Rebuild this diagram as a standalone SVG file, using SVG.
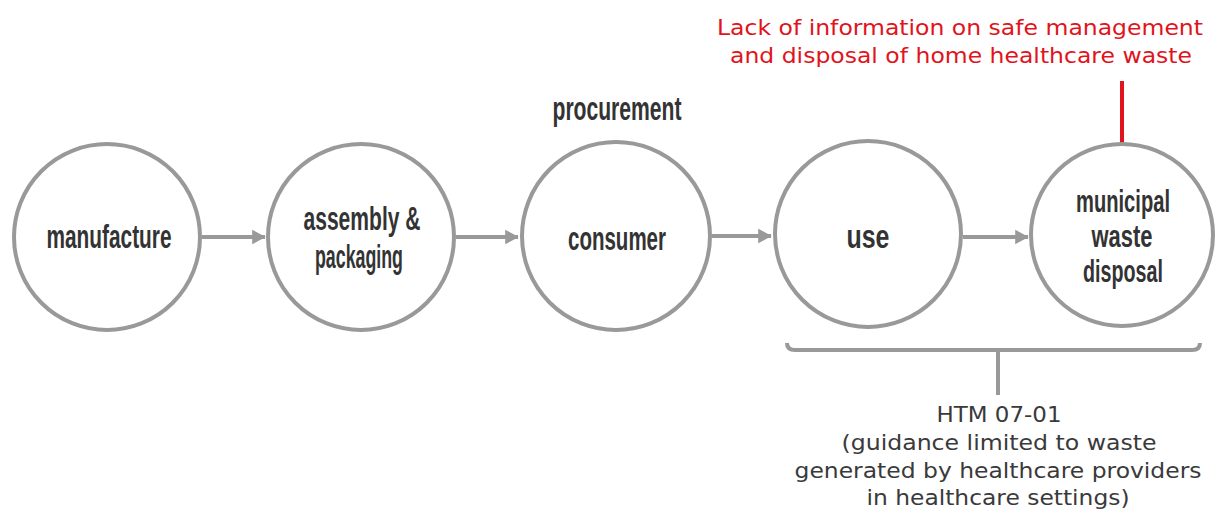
<svg xmlns="http://www.w3.org/2000/svg" width="1217" height="518" viewBox="0 0 1217 518">
<defs>
<style>
.node{fill:#fff;stroke:#999;stroke-width:4}
.lbl{font-family:"Liberation Sans Narrow","Liberation Sans",sans-serif;font-weight:bold;font-size:34px;fill:#333;text-anchor:middle}
.sm{font-size:31px}
.edge{stroke:#999;stroke-width:4;fill:none}
.red{font-family:"DejaVu Sans","Noto Sans",sans-serif;font-size:21px;fill:#e0141c;text-anchor:middle}
.note{font-family:"DejaVu Sans","Noto Sans",sans-serif;font-size:21px;fill:#3a3a3a;text-anchor:middle}
</style>
<marker id="ah" markerWidth="4" markerHeight="4" refX="3.2" refY="2" orient="auto" markerUnits="strokeWidth">
<path d="M0,0.2 L3.4,2 L0,3.8 Z" fill="#999"/>
</marker>
</defs>
<rect width="1217" height="518" fill="#fff"/>
<g id="connectors">
<line class="edge" x1="202" y1="237" x2="265" y2="237" marker-end="url(#ah)"/>
<line class="edge" x1="456" y1="237" x2="518" y2="237" marker-end="url(#ah)"/>
<line class="edge" x1="712" y1="236" x2="771" y2="236" marker-end="url(#ah)"/>
<line class="edge" x1="963" y1="237" x2="1028" y2="237" marker-end="url(#ah)"/>
<line x1="1122" y1="81" x2="1122" y2="145" stroke="#e0141c" stroke-width="4"/>
<path class="edge" d="M787,343 Q787,350 795,350 L1192,350 Q1200,350 1200,343"/>
<line class="edge" x1="998" y1="350" x2="998" y2="395"/>
</g>
<g id="n1">
<circle class="node" cx="107" cy="237" r="93"/>
<text class="lbl" x="109" y="248" textLength="125" lengthAdjust="spacingAndGlyphs">manufacture</text>
</g>
<g id="n2">
<circle class="node" cx="361" cy="237" r="93"/>
<text class="lbl" x="362" y="230" textLength="117" lengthAdjust="spacingAndGlyphs">assembly &amp;</text>
<text class="lbl" x="359" y="268" textLength="88" lengthAdjust="spacingAndGlyphs">packaging</text>
</g>
<g id="n3">
<circle class="node" cx="616" cy="236" r="94"/>
<text class="lbl" x="617" y="250" textLength="98" lengthAdjust="spacingAndGlyphs">consumer</text>
<text class="lbl" x="617" y="120" textLength="129" lengthAdjust="spacingAndGlyphs">procurement</text>
</g>
<g id="n4">
<circle class="node" cx="868" cy="234" r="93"/>
<text class="lbl" x="868" y="248" textLength="43" lengthAdjust="spacingAndGlyphs">use</text>
</g>
<g id="n5">
<circle class="node" cx="1122" cy="235" r="91"/>
<text class="lbl sm" x="1123" y="212" textLength="94" lengthAdjust="spacingAndGlyphs">municipal</text>
<text class="lbl sm" x="1122" y="247" textLength="61" lengthAdjust="spacingAndGlyphs">waste</text>
<text class="lbl sm" x="1123" y="282" textLength="80" lengthAdjust="spacingAndGlyphs">disposal</text>
</g>
<g id="red-note">
<text class="red" x="960" y="35" textLength="486" lengthAdjust="spacingAndGlyphs">Lack of information on safe management</text>
<text class="red" x="961" y="63" textLength="462" lengthAdjust="spacingAndGlyphs">and disposal of home healthcare waste</text>
</g>
<g id="htm-note">
<text class="note" x="999" y="422" textLength="125" lengthAdjust="spacingAndGlyphs">HTM 07-01</text>
<text class="note" x="999" y="450" textLength="315" lengthAdjust="spacingAndGlyphs">(guidance limited to waste</text>
<text class="note" x="998" y="478" textLength="407" lengthAdjust="spacingAndGlyphs">generated by healthcare providers</text>
<text class="note" x="998" y="505" textLength="263" lengthAdjust="spacingAndGlyphs">in healthcare settings)</text>
</g>
</svg>
